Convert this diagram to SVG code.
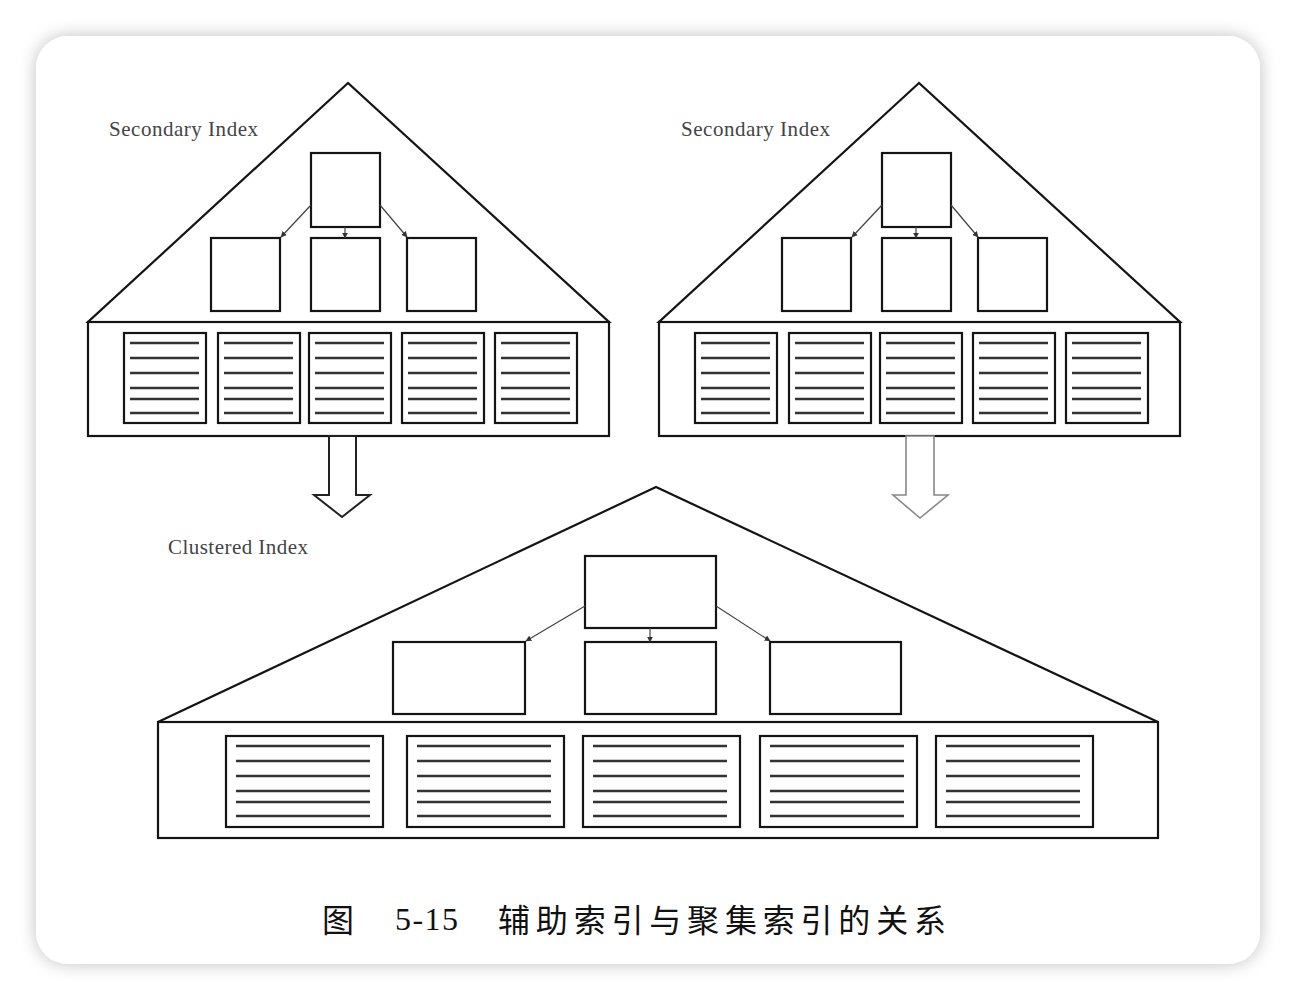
<svg xmlns="http://www.w3.org/2000/svg" width="1296" height="1000" viewBox="0 0 1296 1000">
<style>
.ln{fill:none;stroke:#141414;stroke-width:2.2}
.bx{fill:#fff;stroke:#141414;stroke-width:2.2}
.row{stroke:#333;stroke-width:2.4}
.lab{font-family:"Liberation Serif","Times New Roman",serif;font-size:21px;fill:#444}
.cap{font-family:"Liberation Serif","Noto Sans CJK SC",serif;font-size:32px;fill:#111}
.ar{fill:none;stroke:#444;stroke-width:1.2}
</style>
<defs>
<filter id="sh" x="-10%" y="-10%" width="120%" height="120%">
<feGaussianBlur in="SourceAlpha" stdDeviation="9"/>
<feComponentTransfer><feFuncA type="linear" slope="0.25"/></feComponentTransfer>
<feMerge><feMergeNode/><feMergeNode in="SourceGraphic"/></feMerge>
</filter>
<marker id="ah" viewBox="0 0 10 10" refX="9" refY="5" markerWidth="6" markerHeight="6" orient="auto" markerUnits="userSpaceOnUse">
<path d="M0,0 L10,5 L0,10 z" fill="#333"/>
</marker>
<g id="leafS">
<rect class="bx" x="0" y="0" width="82" height="90"/>
<g class="row">
<line x1="6" y1="10" x2="75" y2="10"/><line x1="6" y1="25" x2="75" y2="25"/><line x1="6" y1="40" x2="75" y2="40"/><line x1="6" y1="55" x2="75" y2="55"/><line x1="6" y1="66" x2="75" y2="66"/><line x1="6" y1="80" x2="75" y2="80"/>
</g>
</g>
<g id="leafL">
<rect class="bx" x="0" y="0" width="157" height="91"/>
<g class="row">
<line x1="10" y1="10" x2="144" y2="10"/><line x1="10" y1="25" x2="144" y2="25"/><line x1="10" y1="40" x2="144" y2="40"/><line x1="10" y1="55" x2="144" y2="55"/><line x1="10" y1="66" x2="144" y2="66"/><line x1="10" y1="80" x2="144" y2="80"/>
</g>
</g>
<g id="secTree">
<polygon class="ln" points="348,83 88,322 609,322"/>
<rect class="ln" x="88" y="322" width="521" height="114"/>
<rect class="bx" x="311" y="153" width="69" height="74"/>
<rect class="bx" x="211" y="238" width="69" height="73"/>
<rect class="bx" x="311" y="238" width="69" height="73"/>
<rect class="bx" x="407" y="238" width="69" height="73"/>
<use href="#leafS" x="124" y="333"/>
<use href="#leafS" x="218" y="333"/>
<use href="#leafS" x="309" y="333"/>
<use href="#leafS" x="402" y="333"/>
<use href="#leafS" x="495" y="333"/>
</g>
</defs>
<rect width="1296" height="1000" fill="#fff"/>
<rect x="36" y="36" width="1224" height="928" rx="32" fill="#fff" filter="url(#sh)"/>

<g id="secondary-index-left">
<use href="#secTree"/>
<text class="lab" x="109" y="136" textLength="149">Secondary Index</text>
</g>
<g id="secondary-index-right">
<use href="#secTree" x="571"/>
<text class="lab" x="681" y="136" textLength="149">Secondary Index</text>
</g>

<g id="clustered-index">
<polygon class="ln" points="656,487 158,722 1158,722"/>
<rect class="ln" x="158" y="722" width="1000" height="116"/>
<rect class="bx" x="585" y="556" width="131" height="72"/>
<rect class="bx" x="393" y="642" width="132" height="72"/>
<rect class="bx" x="585" y="642" width="131" height="72"/>
<rect class="bx" x="770" y="642" width="131" height="72"/>
<use href="#leafL" x="226" y="736"/>
<use href="#leafL" x="407" y="736"/>
<use href="#leafL" x="583" y="736"/>
<use href="#leafL" x="760" y="736"/>
<use href="#leafL" x="936" y="736"/>
<text class="lab" x="168" y="554" textLength="140">Clustered Index</text>
</g>

<g id="connectors">
<line class="ar" x1="311" y1="205" x2="281" y2="237" marker-end="url(#ah)"/>
<line class="ar" x1="345" y1="227" x2="345" y2="238" marker-end="url(#ah)"/>
<line class="ar" x1="380" y1="205" x2="407" y2="237" marker-end="url(#ah)"/>
<line class="ar" x1="882" y1="205" x2="852" y2="237" marker-end="url(#ah)"/>
<line class="ar" x1="916" y1="227" x2="916" y2="238" marker-end="url(#ah)"/>
<line class="ar" x1="951" y1="205" x2="978" y2="237" marker-end="url(#ah)"/>
<line class="ar" x1="585" y1="606" x2="526" y2="641" marker-end="url(#ah)"/>
<line class="ar" x1="650" y1="628" x2="650" y2="642" marker-end="url(#ah)"/>
<line class="ar" x1="716" y1="606" x2="770" y2="641" marker-end="url(#ah)"/>
<polygon points="329,436 356,436 356,495 370,495 342,517 314,495 329,495" fill="#fff" stroke="#222" stroke-width="2"/>
<polygon points="906,436 934,436 934,495 948,495 920,518 893,495 906,495" fill="#fff" stroke="#888" stroke-width="1.6"/>
</g>

<text class="cap" x="322" y="932">图</text>
<text class="cap" x="395" y="930" textLength="63">5-15</text>
<text class="cap" x="498" y="932" textLength="448" lengthAdjust="spacing">辅助索引与聚集索引的关系</text>
</svg>
